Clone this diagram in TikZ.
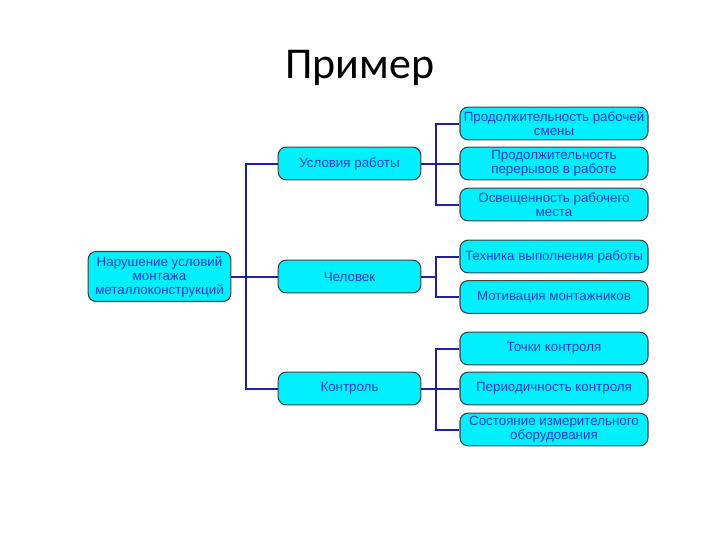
\documentclass[tikz,border=0pt]{standalone}
\usepackage{fontspec}
\setmainfont{Liberation Sans}
\newfontfamily\titlefont{Carlito}
\definecolor{boxfill}{RGB}{0,240,255}
\definecolor{boxtext}{RGB}{30,60,210}
\definecolor{linecol}{RGB}{30,30,160}
\tikzset{
  box/.style={draw=black!75, line width=0.8pt, fill=boxfill, rounded corners=6pt,
    text=boxtext, font=\fontsize{10}{10.5}\selectfont, align=center, inner sep=1pt},
  midbox/.style={box, minimum width=107pt, minimum height=24.5pt},
  rbox/.style={box, minimum width=141pt, minimum height=24.5pt},
  conn/.style={draw=linecol, line width=1.5pt}
}
\begin{document}
\begin{tikzpicture}[x=0.75pt,y=-0.75pt]
\useasboundingbox (0,0) rectangle (720,540);
\node[font=\titlefont\fontsize{33}{33}\selectfont] (title) at (360,68) {Пример};

\node[box, minimum width=107pt, minimum height=37.5pt] (root) at (159.5,276.5) {Нарушение условий\\монтажа\\металлоконструкций};

\node[midbox] (m1) at (349.5,163.5) {Условия работы};
\node[midbox] (m2) at (349.5,276.5) {Человек};
\node[midbox] (m3) at (349.5,388.5) {Контроль};

\node[rbox] (r1) at (554,123.5) {Продолжительность рабочей\\смены};
\node[rbox] (r2) at (554,163.5) {Продолжительность\\перерывов в работе};
\node[rbox] (r3) at (554,204.5) {Освещенность рабочего\\места};
\node[rbox] (r4) at (554,256.5) {Техника выполнения работы};
\node[rbox] (r5) at (554,297) {Мотивация монтажников};
\node[rbox] (r6) at (554,348.5) {Точки контроля};
\node[rbox] (r7) at (554,388.5) {Периодичность контроля};
\node[rbox] (r8) at (554,429.5) {Состояние измерительного\\оборудования};

\coordinate (v0) at (246,276.5);
\coordinate (v1) at (436,163.5);
\coordinate (v2) at (436,276.5);
\coordinate (v3) at (436,388.5);

\draw[conn] (root.east) -- (v0);
\draw[conn] (m1.west) -| (v0);
\draw[conn] (m3.west) -| (v0);
\draw[conn] (m2.west) -- (v0);

\draw[conn] (m1.east) -- (v1);
\draw[conn] (r1.west) -| (v1);
\draw[conn] (r3.west) -| (v1);
\draw[conn] (r2.west) -- (v1);

\draw[conn] (m2.east) -- (v2);
\draw[conn] (r4.west) -| (v2);
\draw[conn] (r5.west) -| (v2);

\draw[conn] (m3.east) -- (v3);
\draw[conn] (r6.west) -| (v3);
\draw[conn] (r8.west) -| (v3);
\draw[conn] (r7.west) -- (v3);
\end{tikzpicture}
\end{document}
